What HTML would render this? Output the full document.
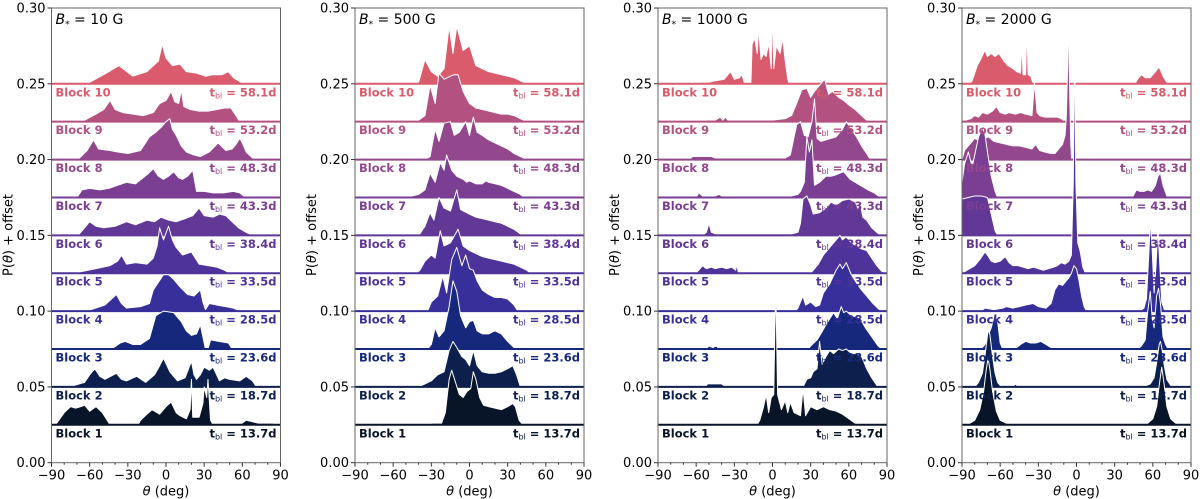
<!DOCTYPE html>
<html><head><meta charset="utf-8">
<style>
html,body{margin:0;padding:0;background:#fff;}
svg{display:block;font-family:"DejaVu Sans","Liberation Sans",sans-serif;}
</style></head>
<body>
<svg id="fig" width="1200" height="499" viewBox="0 0 1200 499"></svg>
<script>
// ---------- data (theta deg, P in units of 0.001) ----------
const blockNames = ["Block 1","Block 2","Block 3","Block 4","Block 5","Block 6","Block 7","Block 8","Block 9","Block 10"];
const tblValues = ["13.7","18.7","23.6","28.5","33.5","38.4","43.3","48.3","53.2","58.1"];
const fieldLabels = ["10 G","500 G","1000 G","2000 G"];
const yTicks = [0,0.05,0.10,0.15,0.20,0.25,0.30];
const xTicks = [-90,-60,-30,0,30,60,90];

const p1b10=[[-61,0],[-60,1],[-47,7],[-37,12],[-26,5],[-15,8],[-6,15],[-3,26],[0,17],[5,12],[11,13],[16,8],[24,7],[31,5],[37,6],[44,6],[49,8],[53,4],[57,2],[61,0]];
const p1b9=[[-66,0],[-64,1],[-55,5],[-49,8],[-44,14],[-40,8],[-34,6],[-26,5],[-18,4],[-10,6],[-5,12],[0,14],[4,20],[7,13],[10,12],[12,21],[14,10],[19,8],[26,7],[33,7],[40,8],[46,9],[51,9],[55,4],[58,0]];
const p1b8=[[-70,0],[-68,1],[-62,6],[-57,13],[-53,7],[-44,6],[-38,5],[-30,4],[-20,6],[-13,15],[-8,18],[-3,22],[0,25],[3,27],[5,20],[8,16],[12,9],[16,5],[22,3],[27,2],[34,5],[41,11],[47,6],[52,7],[55,10],[58,14],[60,11],[63,5],[68,1],[75,0]];
const p1b7=[[-70,0],[-66,5],[-60,6],[-52,5],[-45,6],[-38,8],[-31,10],[-24,9],[-15,15],[-10,19],[-6,14],[-2,12],[2,14],[6,17],[10,13],[13,12],[17,14],[21,18],[24,4],[30,4],[37,3],[45,3],[53,4],[58,3],[61,1],[70,1],[78,0]];
const p1b6=[[-69,0],[-67,2],[-60,9],[-55,6],[-49,5],[-40,6],[-31,9],[-24,7],[-15,10],[-9,9],[-4,12],[2,10],[8,9],[15,11],[21,13],[26,18],[30,13],[37,12],[42,14],[47,13],[52,9],[57,5],[63,2],[68,0]];
const p1b5=[[-69,0],[-67,1],[-55,3],[-44,5],[-38,8],[-35,12],[-31,6],[-24,7],[-15,6],[-10,10],[-7,18],[-5,30],[-2,22],[2,31],[5,22],[8,17],[13,12],[20,14],[26,6],[33,5],[40,4],[46,2],[50,0]];
const p1b4=[[-61,0],[-59,1],[-48,4],[-39,11],[-35,5],[-31,2],[-20,3],[-13,5],[-10,14],[-6,19],[-2,24],[2,24],[6,21],[11,16],[17,11],[22,10],[27,14],[29,6],[31,1],[34,5],[40,4],[47,3],[53,2],[58,0]];
const p1b3=[[-43,0],[-41,1],[-36,4],[-32,5],[-26,3],[-20,3],[-13,7],[-8,22],[-2,25],[6,24],[12,18],[16,12],[20,9],[24,10],[27,16],[29,8],[31,0],[33,0],[35,6],[42,5],[49,4],[52,0]];
const p1b2=[[-74,0],[-72,1],[-64,3],[-60,8],[-56,12],[-52,7],[-48,5],[-39,9],[-35,5],[-31,4],[-23,7],[-16,3],[-9,8],[-5,14],[-2,19],[3,10],[9,4],[15,6],[20,17],[22,8],[24,5],[27,8],[30,13],[34,11],[37,13],[42,4],[46,6],[50,5],[58,4],[63,7],[68,4],[71,0]];
const p1b1=[[-88,0],[-86,1],[-80,8],[-75,12],[-71,11],[-67,12],[-64,13],[-60,9],[-55,12],[-50,8],[-47,4],[-44,0],[-22,0],[-20,3],[-15,7],[-11,10],[-5,7],[0,12],[4,15],[8,8],[11,6],[16,4],[19,10],[20,30],[21,5],[26,5],[29,14],[30,25],[32,18],[33,30],[35,3],[37,0],[58,0],[63,3],[68,2],[73,1],[84,1],[88,0]];

const p2b10=[[-45,0],[-40,1],[-35,16],[-30,8],[-25,5],[-20,10],[-16,38],[-13,20],[-10,38],[-5,22],[0,25],[5,12],[10,10],[15,8],[20,7],[25,6],[30,5],[35,4],[40,2],[45,0]];
const p2b9=[[-45,0],[-40,1],[-35,4],[-31,24],[-27,12],[-24,32],[-20,28],[-15,30],[-12,31],[-9,31],[-5,20],[0,12],[5,9],[10,8],[15,7],[20,6],[25,5],[30,5],[35,4],[40,2],[45,0]];
const p2b8=[[-35,0],[-31,2],[-27,20],[-24,12],[-20,24],[-15,25],[-12,16],[-8,18],[-3,25],[0,16],[3,28],[6,18],[10,16],[15,13],[20,11],[25,9],[30,7],[35,4],[40,2],[45,0]];
const p2b7=[[-50,0],[-45,1],[-40,2],[-35,5],[-31,16],[-27,10],[-23,23],[-20,18],[-18,28],[-14,18],[-10,14],[-5,12],[-2,10],[0,11],[5,9],[10,9],[13,11],[15,10],[20,9],[25,8],[30,6],[35,4],[40,2],[43,0]];
const p2b6=[[-42,0],[-39,1],[-35,6],[-31,15],[-28,10],[-24,25],[-20,18],[-15,16],[-10,30],[-7,17],[0,14],[5,12],[10,11],[15,10],[20,9],[25,8],[30,6],[35,4],[40,1],[42,0]];
const p2b5=[[-42,0],[-39,2],[-35,8],[-30,12],[-27,10],[-23,28],[-20,18],[-15,20],[-9,29],[-5,18],[0,15],[5,13],[10,11],[15,10],[20,9],[25,8],[30,7],[35,6],[40,4],[45,2],[48,0]];
const p2b4=[[-33,0],[-30,6],[-25,10],[-21,23],[-18,12],[-14,34],[-10,42],[-6,30],[-3,37],[0,28],[3,27],[6,20],[10,14],[15,11],[20,9],[25,9],[30,8],[35,4],[38,0]];
const p2b3=[[-33,0],[-30,3],[-27,14],[-24,8],[-20,12],[-16,28],[-13,45],[-10,38],[-7,22],[-3,14],[0,18],[3,19],[6,12],[10,10],[15,10],[20,12],[25,10],[30,5],[35,1],[38,0]];
const p2b2=[[-40,0],[-35,2],[-30,4],[-25,8],[-20,10],[-16,24],[-13,30],[-10,26],[-6,20],[-3,18],[0,14],[3,24],[6,14],[10,10],[15,9],[20,9],[25,10],[30,12],[34,14],[37,8],[40,0]];
const p2b1=[[-32,0],[-29,1],[-22,1],[-19,8],[-16,30],[-14,36],[-11,28],[-8,20],[-5,18],[-2,22],[1,24],[3,35],[5,30],[8,18],[11,13],[15,12],[20,11],[25,10],[30,12],[34,14],[36,12],[39,3],[42,0]];

const p3b10=[[-58,0],[-55,1],[-50,1],[-45,2],[-38,3],[-33,8],[-30,3],[-26,4],[-24,6],[-22,0],[-17,0],[-16,26],[-14,30],[-12,20],[-11,37],[-9,16],[-7,20],[-5,18],[-3,27],[-1,10],[0,50],[1,10],[3,25],[6,20],[8,30],[10,15],[12,3],[13,0]];
const p3b9=[[-55,0],[-52,1],[-45,1],[-41,3],[-39,1],[-37,3],[-35,1],[0,1],[10,2],[15,4],[19,12],[23,21],[27,22],[30,16],[33,20],[37,24],[41,28],[44,18],[47,20],[52,16],[56,14],[60,11],[65,8],[70,4],[74,1],[76,0]];
const p3b8=[[-65,0],[-63,2],[-55,2],[-50,2],[-48,2],[-45,1],[10,1],[14,3],[19,23],[22,25],[25,16],[28,15],[31,25],[33,40],[35,14],[38,12],[42,13],[46,14],[50,15],[55,20],[58,25],[62,20],[66,15],[70,9],[74,4],[77,0]];
const p3b7=[[-60,0],[-58,3],[-55,1],[-45,1],[-42,2],[-40,1],[15,1],[20,2],[22,4],[25,10],[27,40],[29,30],[31,38],[33,8],[37,10],[42,14],[46,14],[50,15],[56,17],[61,12],[65,10],[69,8],[75,5],[80,3],[85,0]];
const p3b6=[[-55,0],[-52,2],[-50,8],[-48,2],[-45,1],[15,1],[20,2],[22,8],[24,24],[27,26],[30,20],[32,14],[37,15],[42,18],[46,22],[50,20],[55,23],[60,24],[65,22],[67,18],[69,21],[71,12],[74,10],[78,5],[82,2],[85,0]];
const p3b5=[[-60,0],[-57,3],[-55,5],[-52,3],[-48,4],[-45,3],[-40,4],[-36,3],[-32,4],[-29,2],[-28,6],[-27,1],[-24,0],[30,0],[32,2],[36,6],[40,12],[45,17],[50,22],[53,25],[55,22],[58,24],[62,20],[66,18],[70,16],[74,15],[78,10],[82,5],[85,2],[88,0]];
const p3b4=[[18,0],[20,2],[24,10],[26,4],[30,6],[34,3],[37,4],[40,12],[45,18],[50,27],[53,31],[55,28],[58,32],[62,24],[65,20],[69,15],[74,10],[79,5],[84,1],[87,0]];
const p3b3=[[-52,0],[-50,2],[-47,1],[-44,2],[-42,0],[28,0],[30,2],[35,6],[38,10],[42,16],[45,20],[48,24],[51,20],[54,28],[56,24],[58,25],[62,22],[66,21],[69,20],[73,14],[78,8],[83,2],[86,0]];
const p3b2=[[-53,0],[-51,2],[-45,2],[-40,2],[-37,0],[24,0],[27,5],[30,6],[32,10],[35,12],[37,30],[39,15],[42,20],[45,24],[48,22],[52,25],[55,24],[58,25],[62,22],[66,22],[70,20],[74,12],[78,6],[82,1],[84,0]];
const p3b1=[[-52,0],[-50,1],[-47,0],[-12,0],[-10,3],[-7,12],[-5,20],[-3,8],[-1,18],[1,20],[2.5,95],[4,20],[7,10],[10,16],[12,8],[14,15],[17,8],[22,6],[24,24],[26,6],[30,12],[35,10],[40,12],[45,10],[50,9],[55,7],[60,4],[65,1],[68,0]];

const p4b10=[[-84,0],[-82,2],[-78,12],[-76,15],[-72,22],[-70,18],[-67,20],[-64,18],[-61,20],[-57,15],[-54,12],[-50,10],[-47,8],[-44,7],[-43,28],[-42,6],[-40,6],[-39,37],[-38,6],[-36,5],[-34,0],[46,0],[48,3],[51,6],[54,4],[58,4],[62,8],[65,11],[68,5],[71,1],[72,0]];
const p4b9=[[-89,0],[-87,1],[-83,2],[-80,4],[-77,3],[-74,6],[-70,5],[-66,7],[-63,10],[-60,6],[-56,5],[-53,6],[-48,5],[-44,6],[-40,5],[-35,4],[-33,26],[-31,6],[-29,4],[-25,3],[-20,3],[-15,3],[-12,2],[-9,0],[52,0],[54,1],[58,0]];
const p4b8=[[-90,0],[-88,6],[-84,10],[-80,14],[-76,12],[-72,14],[-69,15],[-65,12],[-60,11],[-55,10],[-50,9],[-45,9],[-40,8],[-35,7],[-32,10],[-29,6],[-25,5],[-20,4],[-17,4],[-13,8],[-11,10],[-9,16],[-8,28],[-7,60],[-6.4,100],[-5.5,50],[-4.5,10],[-3.8,0]];
const p4b7=[[-90,10],[-88,22],[-85,30],[-82,20],[-80,28],[-77,40],[-74,46],[-72,42],[-70,30],[-67,14],[-64,4],[-62,0],[44,0],[47,5],[50,4],[53,4],[56,5],[59,4],[62,8],[64,14],[66,16],[68,8],[71,1],[72,0]];
const p4b6=[[-90,24],[-85,25],[-80,26],[-75,26],[-70,25],[-67,14],[-64,3],[-62,0]];
const p4b5=[[-90,0],[-88,1],[-84,3],[-80,5],[-76,9],[-72,14],[-70,12],[-67,8],[-64,7],[-60,8],[-56,11],[-53,7],[-50,5],[-46,5],[-42,4],[-38,3],[-34,4],[-30,3],[-26,2],[-22,3],[-18,4],[-15,5],[-12,7],[-9,6],[-6,8],[-4,12],[-2.5,60],[-1.5,155],[-0.5,60],[1,20],[3,14],[5,4],[7,0]];
const p4b4=[[-75,0],[-72,2],[-65,1],[-58,2],[-55,3],[-50,2],[-45,3],[-40,4],[-34,5],[-30,3],[-24,2],[-20,5],[-17,14],[-14,18],[-11,17],[-8,20],[-6,22],[-4,25],[-2,30],[0,28],[2,20],[4,10],[6,3],[8,0],[50,0],[53,2],[55,8],[57,40],[58,61],[59.5,40],[61,12],[62.5,30],[64,55],[65.5,30],[67,6],[69,1],[71,0]];
const p4b3=[[-75,0],[-72,3],[-69,10],[-67,14],[-65,21],[-64,23],[-62,18],[-60,4],[-58,0],[-50,0],[-47,1],[-44,3],[-40,5],[-36,4],[-32,4],[-28,5],[-24,3],[-20,1],[-18,0],[48,0],[51,2],[54,6],[56,25],[58,38],[59.5,20],[61,14],[63,35],[64.5,40],[66,30],[68,8],[70,3],[72,0]];
const p4b2=[[-80,0],[-77,3],[-74,9],[-72,20],[-70,34],[-69,38],[-68,34],[-66,20],[-64,9],[-62,3],[-60,1],[-56,0],[-50,0],[-48,2],[-46,0],[50,0],[55,1],[58,2],[61,6],[63,16],[65,28],[66,30],[67,26],[69,14],[71,5],[74,1],[77,0]];
const p4b1=[[-86,0],[-80,3],[-76,10],[-73,22],[-71,36],[-69.5,44],[-68,36],[-66,22],[-63,9],[-60,3],[-55,1],[-53,0],[52,0],[56,1],[60,4],[63,12],[65,26],[67,38],[69,26],[71,12],[74,4],[78,1],[82,0]];

const panelData = [
  [p1b1,p1b2,p1b3,p1b4,p1b5,p1b6,p1b7,p1b8,p1b9,p1b10],
  [p2b1,p2b2,p2b3,p2b4,p2b5,p2b6,p2b7,p2b8,p2b9,p2b10],
  [p3b1,p3b2,p3b3,p3b4,p3b5,p3b6,p3b7,p3b8,p3b9,p3b10],
  [p4b1,p4b2,p4b3,p4b4,p4b5,p4b6,p4b7,p4b8,p4b9,p4b10]
];

// ---------- layout / style ----------
const colors = ["#081428","#0d1f4c","#15287c","#38309a","#4e339a","#623896","#7a3f92","#93478c","#b35181","#d95b6c"];
const panelLefts = [51.5,355,658,962];
const PW = 229, TOP = 8, BOT = 462.7;
const NS = "http://www.w3.org/2000/svg";
const svg = document.getElementById("fig");
function mk(tag, attrs, parent){ const e=document.createElementNS(NS,tag); for(const k in attrs) e.setAttribute(k,attrs[k]); (parent||svg).appendChild(e); return e; }

const yS = p => BOT - p/0.30*(BOT-TOP);

panelData.forEach((blocks, pi) => {
  const L = panelLefts[pi], R = L + PW;
  const xS = t => L + (t+90)/180*PW;
  const g = mk("g",{});
  
  
  const cp = mk("clipPath",{id:"clip"+pi}, g);
  mk("rect",{x:L,y:TOP,width:PW,height:BOT-TOP},cp);
  const plot = mk("g",{"clip-path":"url(#clip"+pi+")"}, g);
  for (let k = 9; k >= 0; k--) {
    const base = 0.025*(k+1);
    const pts = blocks[k];
    const by = yS(base);
    let top = pts.map(p => xS(p[0]).toFixed(2)+","+yS(base+p[1]/1000).toFixed(2)).join(" L");
    const area = mk("path",{d:"M"+xS(pts[0][0]).toFixed(2)+","+by+" L"+top+" L"+xS(pts[pts.length-1][0]).toFixed(2)+","+by+" Z", fill:colors[k], stroke:"none"}, plot);
    
    
    const edge = mk("path",{d:"M"+top, fill:"none", stroke:"#fff", "stroke-width":"1", "stroke-linejoin":"round"}, plot);
    
    
    const ln = mk("line",{x1:L,x2:R,y1:by,y2:by,stroke:colors[k],"stroke-width":"2"}, plot);
    
    
  }
  // labels
  for (let k = 0; k < 10; k++) {
    const by = yS(0.025*(k+1));
    const bl = mk("text",{x:L+4,y:by+12.5,fill:colors[k],"font-size":"11.5","font-weight":"bold"}, g);
    bl.textContent = blockNames[k];
    
    
    const tl = mk("text",{x:R-4,y:by+12.5,fill:colors[k],"font-size":"11.5","font-weight":"bold","text-anchor":"end"}, g);
    tl.innerHTML = 't<tspan font-size="8" font-weight="normal" dy="2">bl</tspan><tspan dy="-2"> = '+tblValues[k]+'d</tspan>';
    
    
  }
  // frame
  const fr = mk("rect",{x:L,y:TOP,width:PW,height:BOT-TOP,fill:"none",stroke:"#666","stroke-width":"1"}, g);
  
  
  // y ticks
  yTicks.forEach(v => {
    const y = yS(v);
    mk("line",{x1:L-4,x2:L,y1:y,y2:y,stroke:"#333","stroke-width":"1"}, g);
    const t = mk("text",{x:L-6,y:y+4.5,"font-size":"13","text-anchor":"end",fill:"#000"}, g);
    t.textContent = v.toFixed(2);
    
    
  });
  // x ticks
  for (let t = -90; t <= 90; t += 10) {
    const major = xTicks.includes(t);
    mk("line",{x1:xS(t),x2:xS(t),y1:BOT,y2:BOT+(major?4:2),stroke:"#333","stroke-width":"1"}, g);
  }
  xTicks.forEach(v => {
    const t = mk("text",{x:xS(v),y:BOT+17,"font-size":"13","text-anchor":"middle",fill:"#000"}, g);
    t.textContent = v < 0 ? "\u2212"+Math.abs(v) : String(v);
    
    
  });
  const xl = mk("text",{x:L+PW/2,y:BOT+33,"font-size":"13","text-anchor":"middle",fill:"#000"}, g);
  xl.innerHTML = '<tspan font-style="italic">\u03b8</tspan> (deg)';
  
  
  const yl = mk("text",{x:0,y:0,"font-size":"13","text-anchor":"middle",fill:"#000",transform:"translate("+(L-39)+",235) rotate(-90)"}, g);
  yl.innerHTML = 'P(<tspan font-style="italic">\u03b8</tspan>) + offset';
  
  
  const ti = mk("text",{x:L+4,y:TOP+16,"font-size":"14",fill:"#000"}, g);
  ti.innerHTML = '<tspan font-style="italic">B</tspan><tspan font-size="9" dy="3">*</tspan><tspan dy="-3"> = '+fieldLabels[pi]+'</tspan>';
  
  
});
</script>
</body></html>
